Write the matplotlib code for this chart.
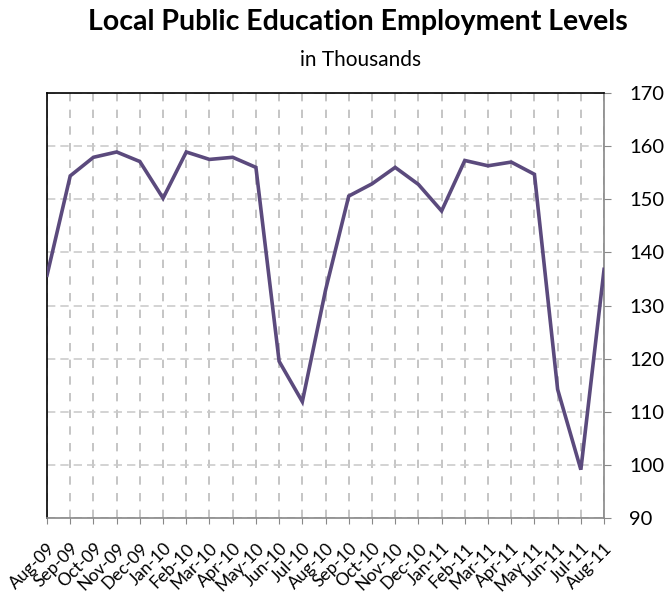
import matplotlib
matplotlib.use('Agg')
import matplotlib.pyplot as plt

months = ['Aug-09', 'Sep-09', 'Oct-09', 'Nov-09', 'Dec-09', 'Jan-10', 'Feb-10',
          'Mar-10', 'Apr-10', 'May-10', 'Jun-10', 'Jul-10', 'Aug-10', 'Sep-10',
          'Oct-10', 'Nov-10', 'Dec-10', 'Jan-11', 'Feb-11', 'Mar-11', 'Apr-11',
          'May-11', 'Jun-11', 'Jul-11', 'Aug-11']
employment = [135.7, 154.4, 157.9, 158.9, 157.1, 150.2, 158.9, 157.5, 157.9, 156.0,
              119.5, 111.9, 132.9, 150.6, 152.9, 156.0, 152.8, 147.8, 157.3, 156.3,
              157.0, 154.7, 114.2, 99.1, 136.8]
y_ticks = [90, 100, 110, 120, 130, 140, 150, 160, 170]

plt.rcParams['font.family'] = ['Lato', 'DejaVu Sans']

fig = plt.figure(figsize=(6.66, 6.02), dpi=100)
ax = fig.add_axes([0.0706, 0.1395, 0.8364, 0.706])

x = list(range(len(months)))
ax.plot(x, employment, color='#5b4a7d', lw=2.6, solid_joinstyle='miter', zorder=3)

ax.set_xlim(0, len(months) - 1)
ax.set_ylim(90, 170)
ax.set_yticks(y_ticks)
ax.set_xticks(x)
ax.set_xticklabels(months, rotation=45, ha='right', rotation_mode='anchor', fontsize=12.5)

ax.yaxis.tick_right()
ax.tick_params(axis='y', labelsize=14.5, length=5, color='#888888', pad=13)
ax.tick_params(axis='x', length=4, color='#888888', pad=12)

ax.grid(axis='y', color='#cccccc', ls=(0, (5, 3)), lw=1.2)
ax.grid(axis='x', color='#bbbbbb', ls=(0, (5, 5)), lw=1.2)

ax.spines['left'].set_color('black')
ax.spines['top'].set_color('black')
ax.spines['right'].set_color('#888888')
ax.spines['bottom'].set_color('#888888')
for s in ax.spines.values():
    s.set_linewidth(1.2)

fig.text(0.538, 0.963, 'Local Public Education Employment Levels', ha='center',
         va='center', fontsize=20.5, fontweight='bold')
fig.text(0.542, 0.900, 'in Thousands', ha='center', va='center', fontsize=15)

fig.savefig('out.png', dpi=100)
